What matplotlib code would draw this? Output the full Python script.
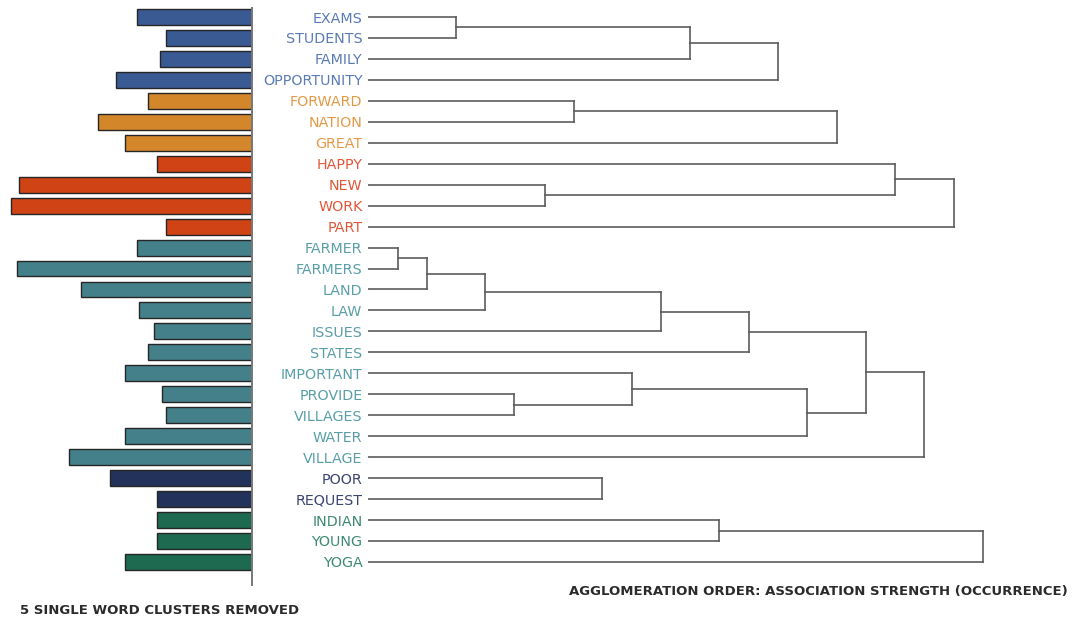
import numpy as np
import matplotlib
matplotlib.use("Agg")
import matplotlib.pyplot as plt

# words (top to bottom) and their occurrence
words = ["EXAMS", "STUDENTS", "FAMILY", "OPPORTUNITY",
         "FORWARD", "NATION", "GREAT",
         "HAPPY", "NEW", "WORK", "PART",
         "FARMER", "FARMERS", "LAND", "LAW", "ISSUES", "STATES",
         "IMPORTANT", "PROVIDE", "VILLAGES", "WATER", "VILLAGE",
         "POOR", "REQUEST",
         "INDIAN", "YOUNG", "YOGA"]
occurrence = [115, 86, 92, 136,
              104, 154, 127,
              95, 233, 241, 86,
              115, 235, 171, 113, 98, 104,
              127, 90, 86, 127, 183,
              142, 95,
              95, 95, 127]
cluster = [0]*4 + [1]*3 + [2]*4 + [3]*11 + [4]*2 + [5]*3

bar_colors = ["#3a5a94", "#d3862a", "#cf4315", "#44808a", "#22325a", "#1e6a50"]
text_colors = ["#5b7bb5", "#e39a48", "#e0583a", "#5a9fa8", "#3c4470", "#3d8a72"]

# agglomeration steps: (node a, node b, merge distance); new nodes numbered from 27
merges = [(11, 12, 30), (27, 13, 59), (0, 1, 88), (28, 14, 117), (18, 19, 146),
          (8, 9, 177), (4, 5, 206), (22, 23, 234), (17, 31, 264), (30, 15, 293),
          (29, 2, 322), (24, 25, 351), (36, 16, 381), (37, 3, 410), (35, 20, 439),
          (33, 6, 469), (39, 41, 498), (7, 32, 527), (43, 21, 556), (44, 10, 586),
          (38, 26, 615)]

W, H = 1079, 622
fig = plt.figure(figsize=(W/100, H/100), dpi=100)

n = len(words)
ypos = np.arange(n)
ylim = (n - 1 + 1.1, -0.43)
ax_bottom = (H - 585) / H
ax_height = (585 - 8) / H

# bars on the left
axb = fig.add_axes([0, ax_bottom, 252/W, ax_height])
axb.barh(ypos, occurrence, height=0.76,
         color=[bar_colors[c] for c in cluster],
         edgecolor="#262626", linewidth=1.0)
axb.set_xlim(252, 0)
axb.set_ylim(*ylim)
axb.axis("off")
axb.axvline(0, color="#777777", lw=1.4, clip_on=False)

# dendrogram on the right
axd = fig.add_axes([368/W, ax_bottom, (W - 368)/W, ax_height])
pos = {i: (0.0, float(i)) for i in range(n)}
line_kw = dict(color="#5c5c5c", lw=1.2, solid_capstyle="projecting")
for k, (a, b, h) in enumerate(merges):
    xa, ya = pos[a]
    xb, yb = pos[b]
    axd.plot([xa, h], [ya, ya], **line_kw)
    axd.plot([xb, h], [yb, yb], **line_kw)
    axd.plot([h, h], [ya, yb], **line_kw)
    pos[n + k] = (h, (ya + yb) / 2)

axd.set_xlim(0, W - 368)
axd.set_ylim(*ylim)
for s in axd.spines.values():
    s.set_visible(False)
axd.set_xticks([])
axd.set_yticks(ypos)
axd.set_yticklabels(words, fontsize=10.3)
axd.tick_params(axis="y", length=0, pad=4)
for lab, c in zip(axd.get_yticklabels(), cluster):
    lab.set_color(text_colors[c])

fig.text(20/W, 1 - 611/H, "5 SINGLE WORD CLUSTERS REMOVED", fontsize=9.5,
         fontweight="bold", color="#2b2b2b", ha="left", va="center")
fig.text(1068/W, 1 - 591/H, "AGGLOMERATION ORDER: ASSOCIATION STRENGTH (OCCURRENCE)",
         fontsize=9.5, fontweight="bold", color="#2b2b2b", ha="right", va="center")

fig.savefig("out.png", dpi=100, facecolor="white")
